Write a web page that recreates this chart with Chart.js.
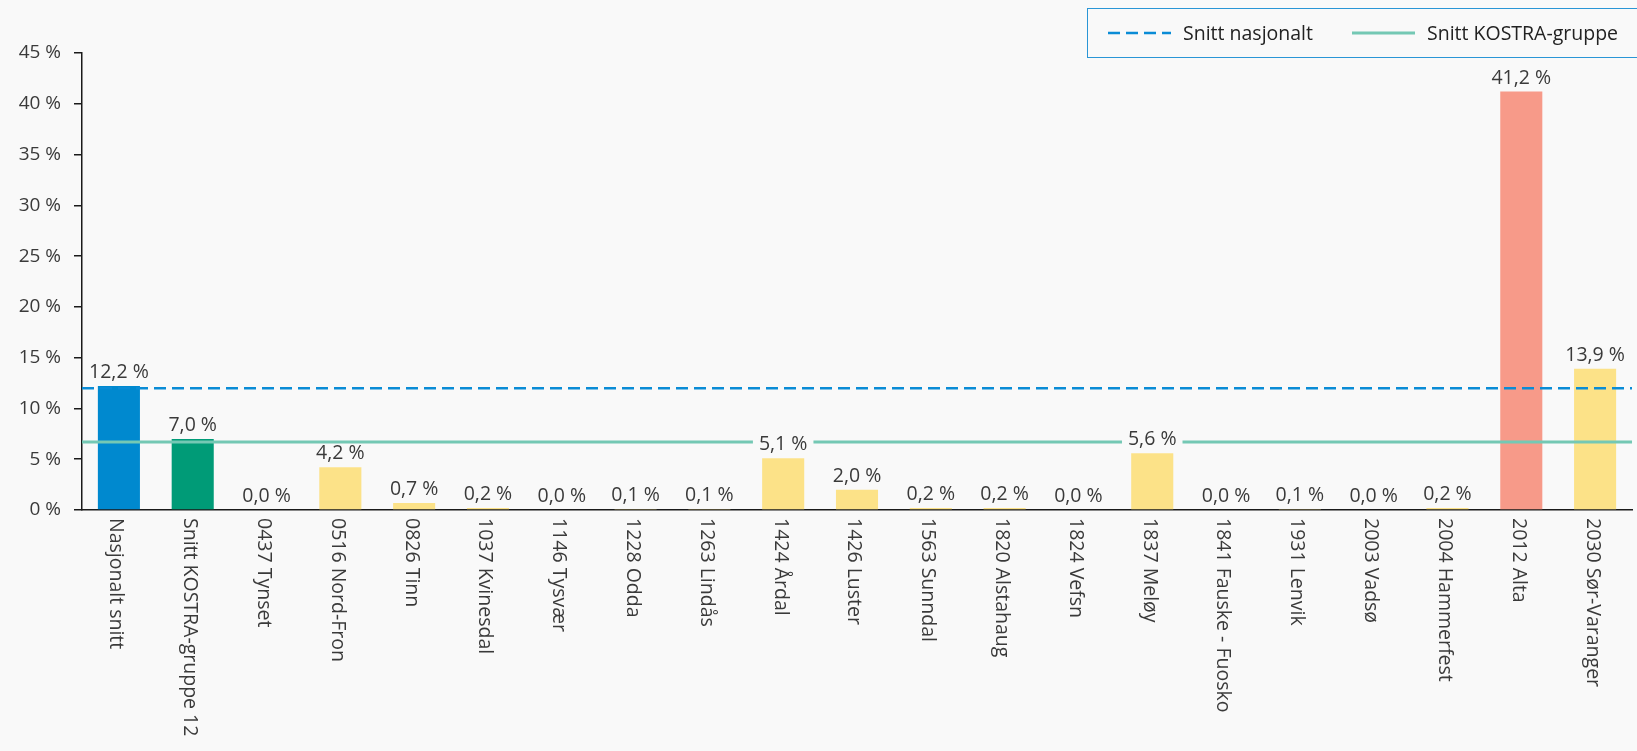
<!DOCTYPE html>
<html>
<head>
<meta charset="utf-8">
<script src="https://cdn.jsdelivr.net/npm/chart.js@4.4.0/dist/chart.umd.min.js"></script>
<style>
  html, body { margin: 0; padding: 0; background: #f9f9f9; }
  #wrap { width: 1637px; height: 751px; }
</style>
</head>
<body>
<div id="wrap"><canvas id="chart"></canvas></div>
<script>
'use strict';

const categories = [
  'Nasjonalt snitt', 'Snitt KOSTRA-gruppe 12', '0437 Tynset', '0516 Nord-Fron', '0826 Tinn',
  '1037 Kvinesdal', '1146 Tysvær', '1228 Odda', '1263 Lindås', '1424 Årdal', '1426 Luster',
  '1563 Sunndal', '1820 Alstahaug', '1824 Vefsn', '1837 Meløy', '1841 Fauske - Fuosko',
  '1931 Lenvik', '2003 Vadsø', '2004 Hammerfest', '2012 Alta', '2030 Sør-Varanger'
];
const values = [12.2, 7.0, 0.0, 4.2, 0.7, 0.2, 0.0, 0.1, 0.1, 5.1, 2.0, 0.2, 0.2, 0.0, 5.6, 0.0, 0.1, 0.0, 0.2, 41.2, 13.9];
const nationalAvg = 12.0;
const kostraAvg = 6.7;
const yMax = 45;
const yStep = 5;

const BG = '#f9f9f9';
const TEXT = '#3a3a3a';
const FONT = '"Open Sans"';
const barColors = categories.map((c, i) => {
  if (i === 0) return '#0089cf';
  if (i === 1) return '#009b77';
  if (c === '2012 Alta') return '#f79a89';
  return '#fce288';
});

const fmt = (v) => v.toFixed(1).replace('.', ',') + ' %';

// value labels above the bars, with a background that hides the lines behind
const barLabels = {
  id: 'barLabels',
  afterDatasetsDraw(chart) {
    const ctx = chart.ctx;
    const meta = chart.getDatasetMeta(2);
    ctx.save();
    ctx.font = '19.5px ' + FONT;
    ctx.textAlign = 'center';
    ctx.textBaseline = 'alphabetic';
    meta.data.forEach((bar, i) => {
      const text = fmt(values[i]);
      const w = ctx.measureText(text).width;
      const base = bar.y - 8;
      ctx.fillStyle = BG;
      ctx.fillRect(bar.x - w / 2 - 6, base - 15, w + 12, 19);
      ctx.fillStyle = TEXT;
      ctx.fillText(text, bar.x, base);
    });
    ctx.restore();
  }
};

// x labels rotated to read top to bottom
const xLabels = {
  id: 'xLabels',
  afterDraw(chart) {
    const ctx = chart.ctx;
    const xs = chart.scales.x;
    ctx.save();
    ctx.font = '19.5px ' + FONT;
    ctx.fillStyle = TEXT;
    ctx.textAlign = 'left';
    ctx.textBaseline = 'middle';
    categories.forEach((c, i) => {
      ctx.save();
      ctx.translate(xs.getPixelForValue(i) - 3, xs.bottom + 8);
      ctx.rotate(Math.PI / 2);
      ctx.fillText(c, 0, 0);
      ctx.restore();
    });
    ctx.restore();
  }
};

// framed legend in the top right corner
const legendBox = {
  id: 'legendBox',
  afterDraw(chart) {
    const ctx = chart.ctx;
    const sets = chart.data.datasets.slice(0, 2);
    ctx.save();
    ctx.strokeStyle = '#2a96d6';
    ctx.lineWidth = 1;
    ctx.strokeRect(1087.5, 8.5, 600, 49);
    ctx.textBaseline = 'middle';
    ctx.font = '19.5px ' + FONT;
    const starts = [1108, 1352];
    sets.forEach((ds, i) => {
      const x = starts[i];
      ctx.strokeStyle = ds.borderColor;
      ctx.lineWidth = ds.borderWidth;
      ctx.setLineDash(ds.borderDash || []);
      ctx.beginPath();
      ctx.moveTo(x, 33);
      ctx.lineTo(x + 63, 33);
      ctx.stroke();
      ctx.setLineDash([]);
      ctx.fillStyle = '#222';
      ctx.fillText(ds.label, x + 75, 34);
    });
    ctx.restore();
  }
};

new Chart(document.getElementById('chart'), {
  type: 'bar',
  data: {
    labels: categories,
    datasets: [
      {
        type: 'line',
        label: 'Snitt nasjonalt',
        xAxisID: 'xl',
        data: [{ x: 0, y: nationalAvg }, { x: 1, y: nationalAvg }],
        borderColor: '#0a8cd6',
        borderWidth: 2.5,
        borderDash: [12, 6],
        pointRadius: 0,
        order: 0
      },
      {
        type: 'line',
        label: 'Snitt KOSTRA-gruppe',
        xAxisID: 'xl',
        data: [{ x: 0, y: kostraAvg }, { x: 1, y: kostraAvg }],
        borderColor: '#74c8b4',
        borderWidth: 3,
        pointRadius: 0,
        order: 0
      },
      {
        type: 'bar',
        label: 'Andel',
        xAxisID: 'x',
        data: values,
        backgroundColor: barColors,
        barPercentage: 0.57,
        categoryPercentage: 1,
        grouped: false,
        order: 1
      }
    ]
  },
  options: {
    responsive: true,
    maintainAspectRatio: false,
    animation: false,
    layout: { padding: { top: 53, right: 5, bottom: 241, left: 0 } },
    plugins: {
      legend: { display: false },
      tooltip: { enabled: false }
    },
    scales: {
      x: {
        type: 'category',
        offset: true,
        grid: { display: false },
        border: { display: true, color: '#1a1a1a', width: 1.5 },
        ticks: { display: false },
        afterFit: (s) => { s.height = 0; }
      },
      xl: {
        type: 'linear',
        display: false,
        offset: false,
        min: 0,
        max: 1
      },
      y: {
        min: 0,
        max: yMax,
        grid: { display: true, drawOnChartArea: false, drawTicks: true, tickLength: 8, color: '#1a1a1a', lineWidth: 1.5 },
        border: { display: true, color: '#1a1a1a', width: 1.5 },
        ticks: {
          stepSize: yStep,
          padding: 13,
          color: TEXT,
          font: { family: FONT, size: 19 },
          callback: (v) => v + ' %'
        },
        afterFit: (s) => { s.width = 82; }
      }
    }
  },
  plugins: [barLabels, xLabels, legendBox]
});
</script>
</body>
</html>
